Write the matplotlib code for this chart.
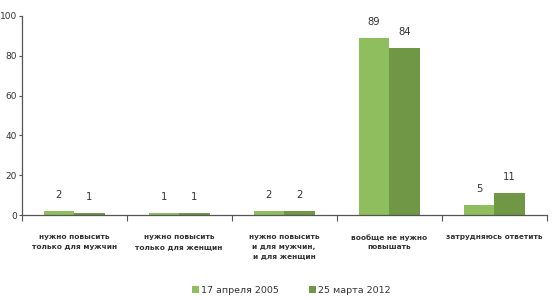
import numpy as np
import matplotlib
matplotlib.use("Agg")
import matplotlib.pyplot as plt

# categories and values
cats = ['нужно повысить\nтолько для мужчин',
        'нужно повысить\nтолько для женщин',
        'нужно повысить\nи для мужчин,\nи для женщин',
        'вообще не нужно\nповышать',
        'затрудняюсь ответить']
v2005 = [2, 1, 2, 89, 5]
v2012 = [1, 1, 2, 84, 11]
labels = ['17 апреля 2005', '25 марта 2012']
yticks = [0, 20, 40, 60, 80, 100]

c_light = '#8fbe5e'
c_dark = '#6f9746'
txt = '#333333'

plt.rcParams['font.family'] = ['DejaVu Sans']

fig = plt.figure(figsize=(5.55, 3.0), dpi=100)
ax = fig.add_axes([0.039, 0.283, 0.946, 0.664])

x = np.arange(len(cats))
w = 0.29
b1 = ax.bar(x - w/2, v2005, w, color=c_light, label=labels[0])
b2 = ax.bar(x + w/2, v2012, w, color=c_dark, label=labels[1])

for bars, vals in ((b1, v2005), (b2, v2012)):
    for r, v in zip(bars, vals):
        ax.annotate(str(v), (r.get_x() + r.get_width()/2, v),
                    xytext=(0, 8), textcoords='offset points',
                    ha='center', va='bottom', fontsize=7.2, color=txt)

ax.set_xlim(-0.5, len(cats) - 0.5)
ax.set_ylim(0, 100)
ax.set_yticks(yticks)
ax.set_yticklabels([str(t) for t in yticks], fontsize=6.5, color=txt)
ax.tick_params(axis='y', length=2.5, width=0.8, color='#555555', pad=1)

# boundary ticks between categories
ax.set_xticks(np.arange(len(cats) + 1) - 0.5)
ax.set_xticklabels([])
ax.tick_params(axis='x', length=4, width=0.8, color='#555555')
for i, c in enumerate(cats):
    ax.text(i, -9.5, c, ha='center', va='top', fontsize=5.3,
            color=txt, fontweight='bold', linespacing=1.7)

for s in ('top', 'right'):
    ax.spines[s].set_visible(False)
for s in ('left', 'bottom'):
    ax.spines[s].set_color('#555555')
    ax.spines[s].set_linewidth(0.9)

fig.legend(loc='center', bbox_to_anchor=(0.525, 0.033), ncol=2,
           frameon=False, fontsize=6.8, handlelength=0.7, handleheight=0.7,
           handletextpad=0.25, columnspacing=3.2, labelcolor=txt)

fig.savefig('out.png', dpi=100)
